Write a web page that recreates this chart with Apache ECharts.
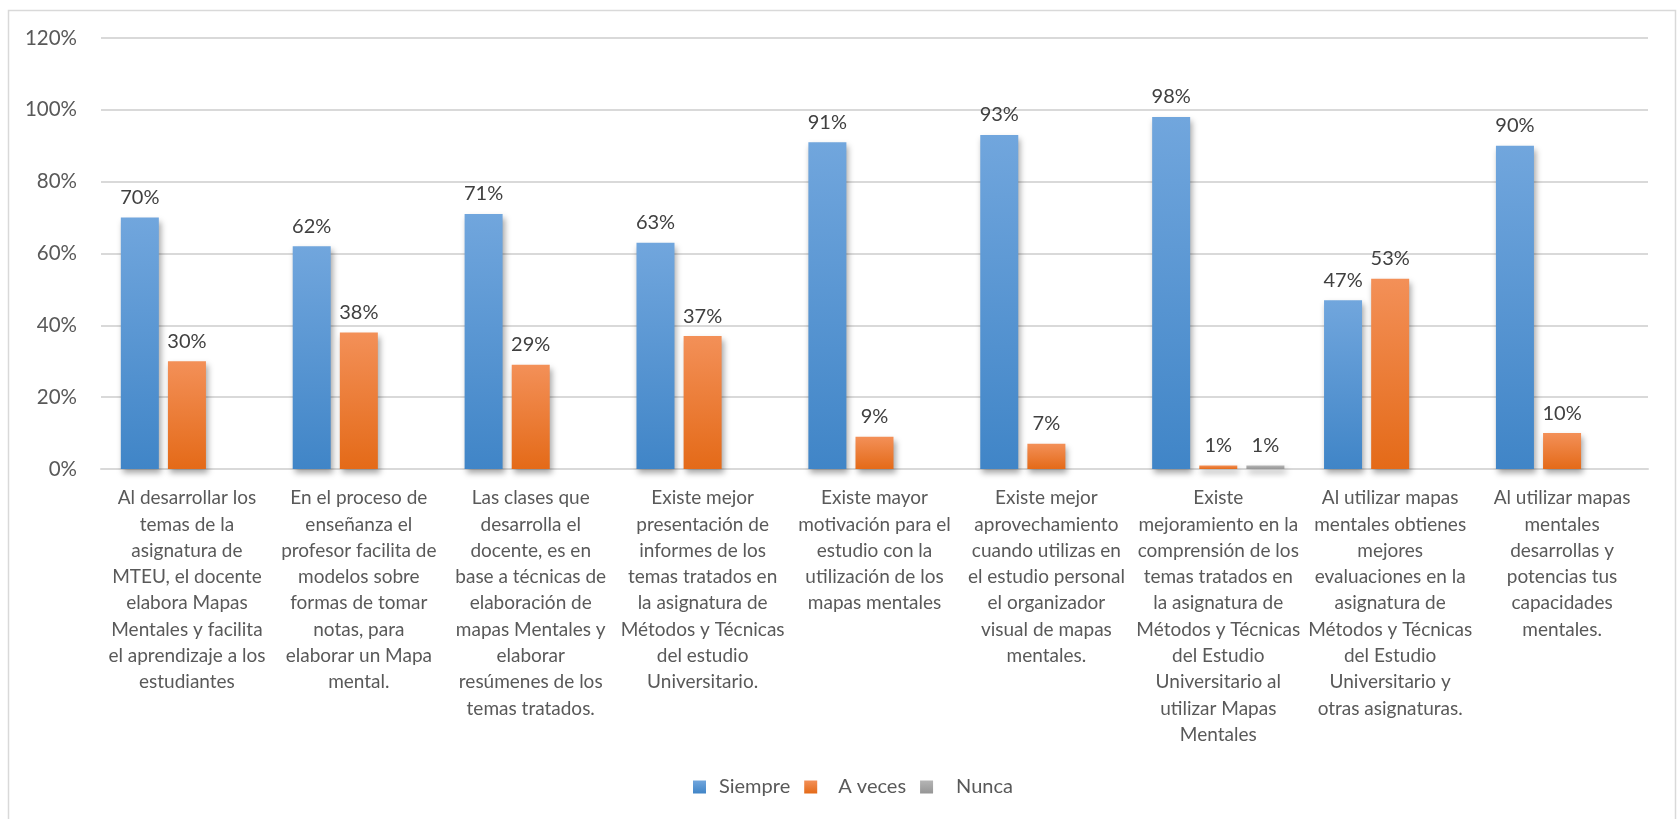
<!DOCTYPE html>
<html>
<head>
<meta charset="utf-8">
<script src="https://cdn.jsdelivr.net/npm/echarts@6/dist/echarts.min.js"></script>
<style>
html,body{margin:0;padding:0;background:#fff;}
#c{width:1677px;height:819px;}
</style>
</head>
<body>
<div id="c"></div>
<script>
const categories = [
  "Al desarrollar los\ntemas de la\nasignatura de\nMTEU, el docente\nelabora Mapas\nMentales y facilita\nel aprendizaje a los\nestudiantes",
  "En el proceso de\nenseñanza el\nprofesor facilita de\nmodelos sobre\nformas de tomar\nnotas, para\nelaborar un Mapa\nmental.",
  "Las clases que\ndesarrolla el\ndocente, es en\nbase a técnicas de\nelaboración de\nmapas Mentales y\nelaborar\nresúmenes de los\ntemas tratados.",
  "Existe mejor\npresentación de\ninformes de los\ntemas tratados en\nla asignatura de\nMétodos y Técnicas\ndel estudio\nUniversitario.",
  "Existe mayor\nmotivación para el\nestudio con la\nutilización de los\nmapas mentales",
  "Existe mejor\naprovechamiento\ncuando utilizas en\nel estudio personal\nel organizador\nvisual de mapas\nmentales.",
  "Existe\nmejoramiento en la\ncomprensión de los\ntemas tratados en\nla asignatura de\nMétodos y Técnicas\ndel Estudio\nUniversitario al\nutilizar Mapas\nMentales",
  "Al utilizar mapas\nmentales obtienes\nmejores\nevaluaciones en la\nasignatura de\nMétodos y Técnicas\ndel Estudio\nUniversitario y\notras asignaturas.",
  "Al utilizar mapas\nmentales\ndesarrollas y\npotencias tus\ncapacidades\nmentales."
];
const seriesNames = ["Siempre", "A veces", "Nunca"];
const siempre = [0.70, 0.62, 0.71, 0.63, 0.91, 0.93, 0.98, 0.47, 0.90];
const aVeces  = [0.30, 0.38, 0.29, 0.37, 0.09, 0.07, 0.01, 0.53, 0.10];
const nunca   = [null, null, null, null, null, null, 0.01, null, null];
const yTicks = {min: 0, max: 1.2, interval: 0.2};

const FONT = "Lato";
const TXT = "#595959";
function grad(top, bottom){
  return new echarts.graphic.LinearGradient(0,0,0,1,[{offset:0,color:top},{offset:1,color:bottom}]);
}
const colors = [grad('#71a6dd','#4085c7'), grad('#f39058','#e46a18'), grad('#b5b5b5','#959595')];
const legendColors = ['#5b9bd5','#ed7d31','#a5a5a5'];
const pct = v => Math.round(v*100) + '%';

function mk(name, data, i){
  return {
    name: name, type: 'bar', data: data,
    barWidth: 38, barGap: '24%',
    itemStyle: {color: colors[i], shadowBlur: 6, shadowOffsetX: 2, shadowOffsetY: 4, shadowColor: 'rgba(0,0,0,0.35)'},
    label: {show: true, position: 'top', distance: 10, color: '#404040', fontFamily: FONT, fontSize: 20,
      formatter: p => p.value == null ? '' : pct(p.value)}
  };
}
const legendPad = [8, 16, 18];

const chart = echarts.init(document.getElementById('c'));
chart.setOption({
  animation: false,
  color: legendColors,
  graphic: [{type:'rect', shape:{x:8.5,y:10.5,width:1667,height:830}, style:{fill:'none', stroke:'#d9d9d9', lineWidth:1.5}, silent:true, z:-1}],
  grid: {left: 101, right: 29, top: 38, bottom: 350, containLabel: false},
  legend: {
    data: seriesNames.map((n, i) => ({name: n, textStyle: {padding: [0, 0, 0, legendPad[i]]}})),
    left: 688, top: 772, itemWidth: 13, itemHeight: 13, itemGap: 14,
    icon: 'rect',
    textStyle: {color: TXT, fontFamily: FONT, fontSize: 20}
  },
  xAxis: {
    type: 'category', data: categories,
    axisLine: {show: true, lineStyle: {color: '#d9d9d9', width: 2}},
    axisTick: {show: false},
    axisLabel: {interval: 0, color: TXT, fontFamily: FONT, fontSize: 19, lineHeight: 26.3, margin: 16, align: 'center'}
  },
  yAxis: {
    type: 'value', min: yTicks.min, max: yTicks.max, interval: yTicks.interval,
    axisLine: {show: false}, axisTick: {show: false},
    splitLine: {lineStyle: {color: '#d9d9d9', width: 2}},
    axisLabel: {color: TXT, fontFamily: FONT, fontSize: 20.5, margin: 24, formatter: v => pct(v)}
  },
  series: [mk(seriesNames[0], siempre, 0), mk(seriesNames[1], aVeces, 1), mk(seriesNames[2], nunca, 2)]
});
</script>
</body>
</html>
